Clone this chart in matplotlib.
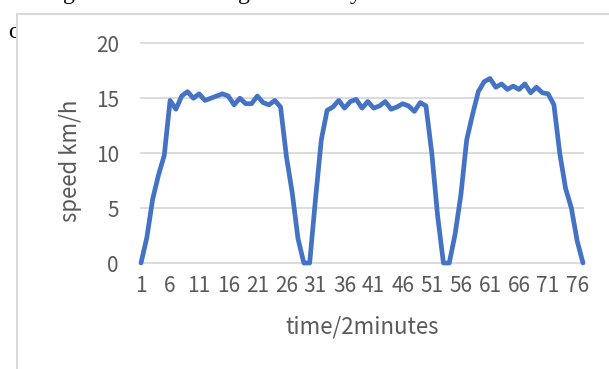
import matplotlib as mpl
import matplotlib.pyplot as plt
from matplotlib.patches import Rectangle

mpl.use('Agg')

plt.rcParams['font.family'] = ['Noto Sans CJK SC', 'DejaVu Sans']
plt.rcParams['font.weight'] = 'light'

# speed (km/h) every 2 minutes
speed = [0, 2.3, 5.8, 8.0, 9.8, 14.8, 14.0, 15.2, 15.6, 15.0,
         15.4, 14.8, 15.0, 15.2, 15.4, 15.2, 14.4, 15.0, 14.5, 14.5,
         15.2, 14.6, 14.4, 14.8, 14.2, 9.7, 6.4, 2.2, 0, 0,
         5.8, 11.2, 13.9, 14.2, 14.8, 14.1, 14.7, 14.9, 14.1, 14.7,
         14.1, 14.3, 14.7, 14.0, 14.2, 14.5, 14.3, 13.8, 14.6, 14.3,
         10.0, 4.3, 0, 0, 2.6, 6.2, 11.2, 13.5, 15.6, 16.5,
         16.8, 16.0, 16.3, 15.8, 16.1, 15.8, 16.3, 15.5, 16.0, 15.5,
         15.4, 14.4, 10.0, 6.8, 5.0, 2.0, 0]
tempo = list(range(1, len(speed) + 1))
rotulos_x = list(range(1, 77, 5))
rotulos_y = [0, 5, 10, 15, 20]

W, H = 609, 369
fig = plt.figure(figsize=(W / 100, H / 100), dpi=100)

def px(x, y):
    return x / W, 1 - y / H

# bits of the page text around the chart (cut off in the screenshot)
serif = 'Liberation Serif'
for xx, ch in [(63, 'g'), (238, 'g'), (350, 'y')]:
    fig.text(xx / W, 1.003, ch, fontsize=17, family=serif, va='baseline',
             color='black', fontweight='normal', zorder=0.1)
fig.text(*px(8, 38), 'c', fontsize=17, family=serif, va='baseline',
         color='black', fontweight='normal', zorder=0.1)

caixa = Rectangle(px(17, 400), 620 / W, 386 / H, transform=fig.transFigure,
                  facecolor='white', edgecolor='#d9d9d9', linewidth=1.5,
                  zorder=0.5)
fig.patches.append(caixa)

x0, y0 = px(141, 263)
x1, y1 = px(583, 43.3)
ax = fig.add_axes([x0, y0, x1 - x0, y1 - y0], zorder=1)
ax.set_facecolor('none')

ax.plot(tempo, speed, color='#4472C4', linewidth=3.4,
        solid_joinstyle='round', solid_capstyle='round', clip_on=False,
        zorder=3)

ax.set_xlim(1, len(speed))
ax.set_ylim(0, 20)
ax.set_xticks(rotulos_x)
ax.set_xticklabels([str(v) for v in rotulos_x])
ax.set_yticks(rotulos_y)
ax.grid(axis='y', color='#d9d9d9', linewidth=1.3, zorder=0)
ax.set_axisbelow(True)
for s in ax.spines.values():
    s.set_visible(False)
for g in ax.get_ygridlines():
    g.set_clip_on(False)
ax.tick_params(axis='x', length=0, pad=9, labelsize=15, labelcolor='#595959')
ax.tick_params(axis='y', length=0, pad=16, labelsize=15, labelcolor='#595959')

fig.text(*px(362, 327), 'time/2minutes', fontsize=16, color='#595959',
         ha='center', va='center')
fig.text(*px(70, 161), 'speed km/h', fontsize=16, color='#595959',
         ha='center', va='center', rotation=90)

plt.savefig('out.png', dpi=100)
